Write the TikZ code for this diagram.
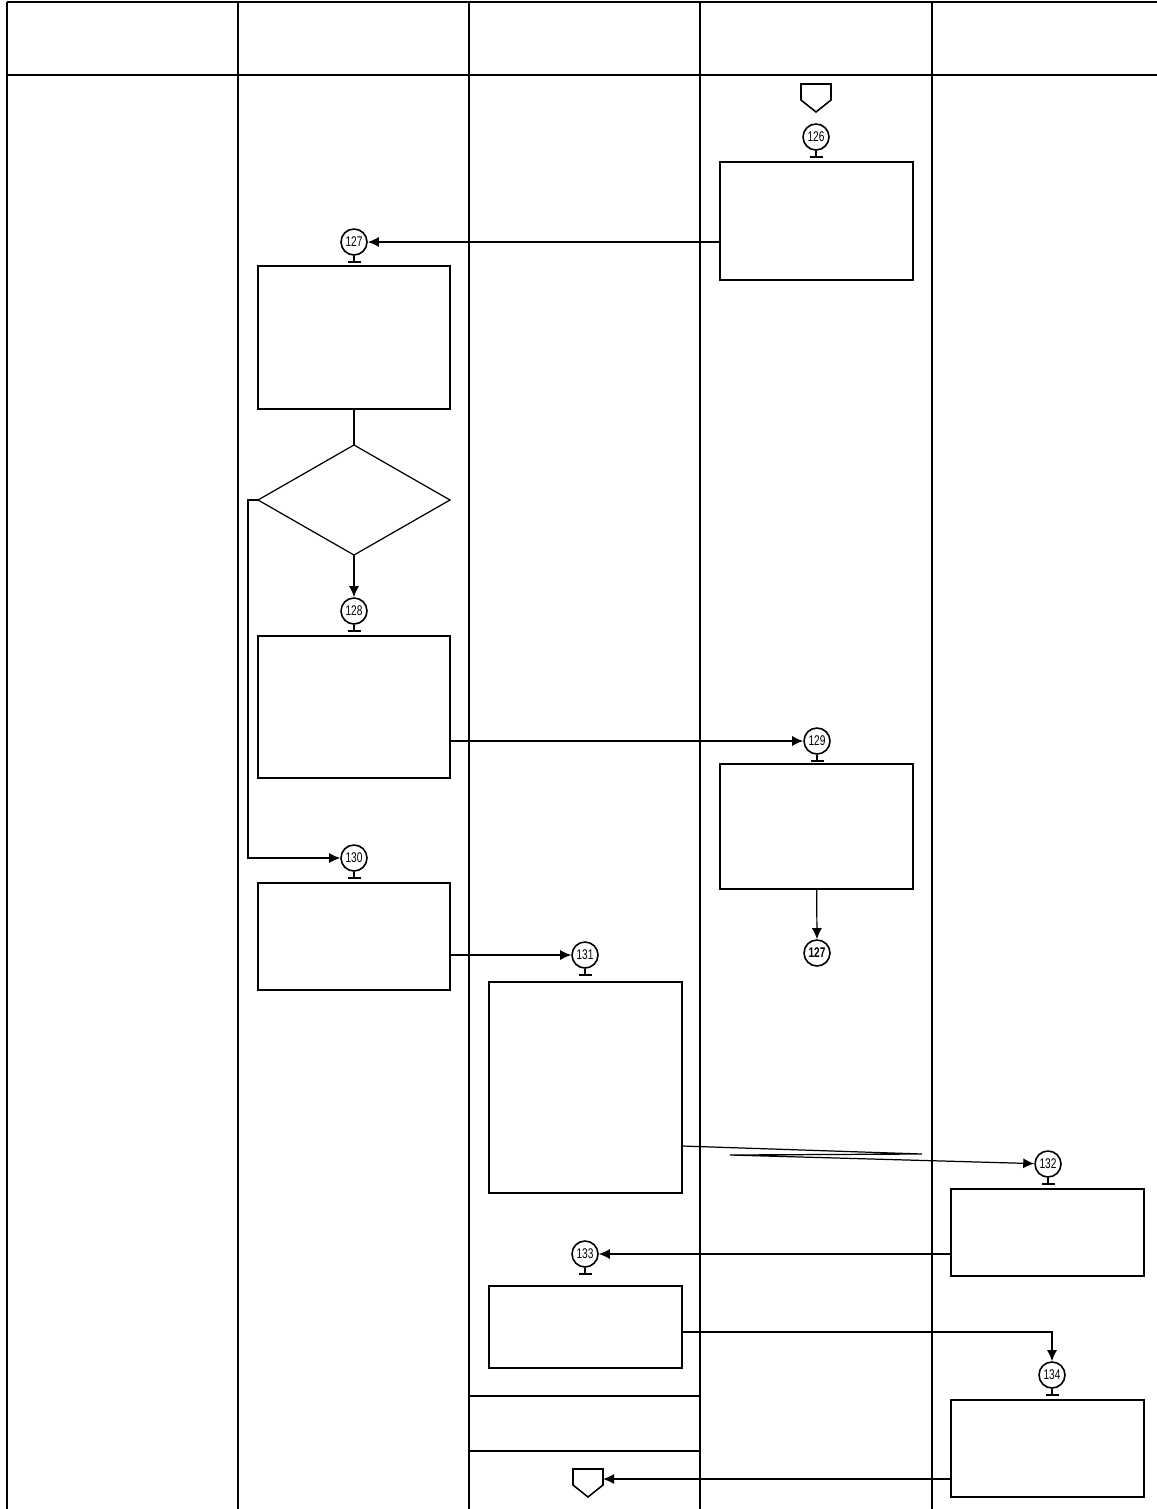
\documentclass[tikz,border=0pt]{standalone}
\usepackage{fontspec}
\setmainfont{Liberation Sans}
\usetikzlibrary{arrows.meta, shapes.geometric, calc}

\tikzset{
  tam/.style 2 args={minimum width=#1*0.02cm, minimum height=#2*0.02cm},
  caixa/.style={draw, line width=0.7pt, inner sep=0pt, outer sep=0pt},
  losango/.style={caixa, diamond, aspect=1.75},
  marca/.style={
    draw, circle, line width=0.9pt, minimum size=0.52cm, inner sep=0pt,
    font=\fontsize{8}{8}\selectfont
  },
  raia/.style={line width=0.7pt},
  seta/.style={-{Latex[length=2.2mm, width=2mm]}, line width=0.7pt},
  liga/.style={line width=0.7pt},
}
\newcommand{\num}[1]{\scalebox{0.72}[1]{#1}}

\begin{document}
\begin{tikzpicture}[x=0.02cm, y=-0.02cm]

\useasboundingbox (0,0) rectangle (1157,1509);

% raias
\draw[raia] (7,2) -- (1157,2);
\draw[raia] (7,75) -- (1157,75);
\foreach \x in {7,238,469,700,932}
  \draw[raia] (\x,2) -- (\x,1509);

% inicio
\draw[line width=0.9pt] (801,84) -- (831,84) -- (831,100) -- (816,112) -- (801,100) -- cycle;

% caixas
\node[caixa, tam={193}{118}] (boxA) at (816.5,221) {};
\node[caixa, tam={192}{143}] (boxB) at (354,337.5) {};
\node[losango, tam={192}{110}] (decisao) at (354,500) {};
\node[caixa, tam={192}{142}] (boxC) at (354,707) {};
\node[caixa, tam={193}{125}] (boxD) at (816.5,826.5) {};
\node[caixa, tam={192}{107}] (boxE) at (354,936.5) {};
\node[caixa, tam={193}{211}] (boxF) at (585.5,1087.5) {};
\node[caixa, tam={193}{87}] (boxG) at (1047.5,1232.5) {};
\node[caixa, tam={193}{82}] (boxH) at (585.5,1327) {};
\node[caixa, tam={231}{55}] (boxJ) at (585,1423.5) {};
\node[caixa, tam={193}{97}] (boxI) at (1047.5,1448.5) {};

% marcas
\node[marca] (m126) at (816,137) {\num{126}};
\node[marca] (m127) at (354,242) {\num{127}};
\node[marca] (m128) at (354,611) {\num{128}};
\node[marca] (m129) at (817,741) {\num{129}};
\node[marca] (m130) at (354,858) {\num{130}};
\node[marca] (m131) at (585,955) {\num{131}};
\node[marca] (m132) at (1048,1164) {\num{132}};
\node[marca] (m133) at (585,1254) {\num{133}};
\node[marca] (m134) at (1052,1375) {\num{134}};
\node[marca] (m127b) at (817,953) {\num{\textbf{127}}};

\foreach \m in {m126,m127,m128,m129,m130,m131,m132,m133,m134}
  \draw[line width=0.9pt] (\m.south) -- ++(0,6) ++(-6.5,0) -- ++(13,0);

% fim
\coordinate (fim) at (603,1479);
\draw[line width=0.9pt] (573,1469) -- (603,1469) -- (603,1485) -- (588,1497) -- (573,1485) -- cycle;

% ligacoes
\coordinate (z1) at (922,1154);
\coordinate (z2) at (730,1155);
\draw[seta] (boxA.west |- m127) -- (m127);
\draw[liga] (boxB) -- (decisao);
\draw[seta] (decisao) -- (m128);
\draw[seta] (boxC.east |- m129) -- (m129);
\draw[seta] (boxD) -- (m127b);
\draw[seta] (decisao.west) -- ++(-10,0) |- (m130);
\draw[seta] (boxE.east |- m131) -- (m131);
\draw[seta] (boxF.east |- 0,1146) -- (z1) -- (z2) -- (m132);
\draw[seta] (boxG.west |- m133) -- (m133);
\draw[seta] (boxH.east |- 0,1332) -| (m134);
\draw[seta] (boxI.west |- fim) -- (fim);

\end{tikzpicture}
\end{document}
